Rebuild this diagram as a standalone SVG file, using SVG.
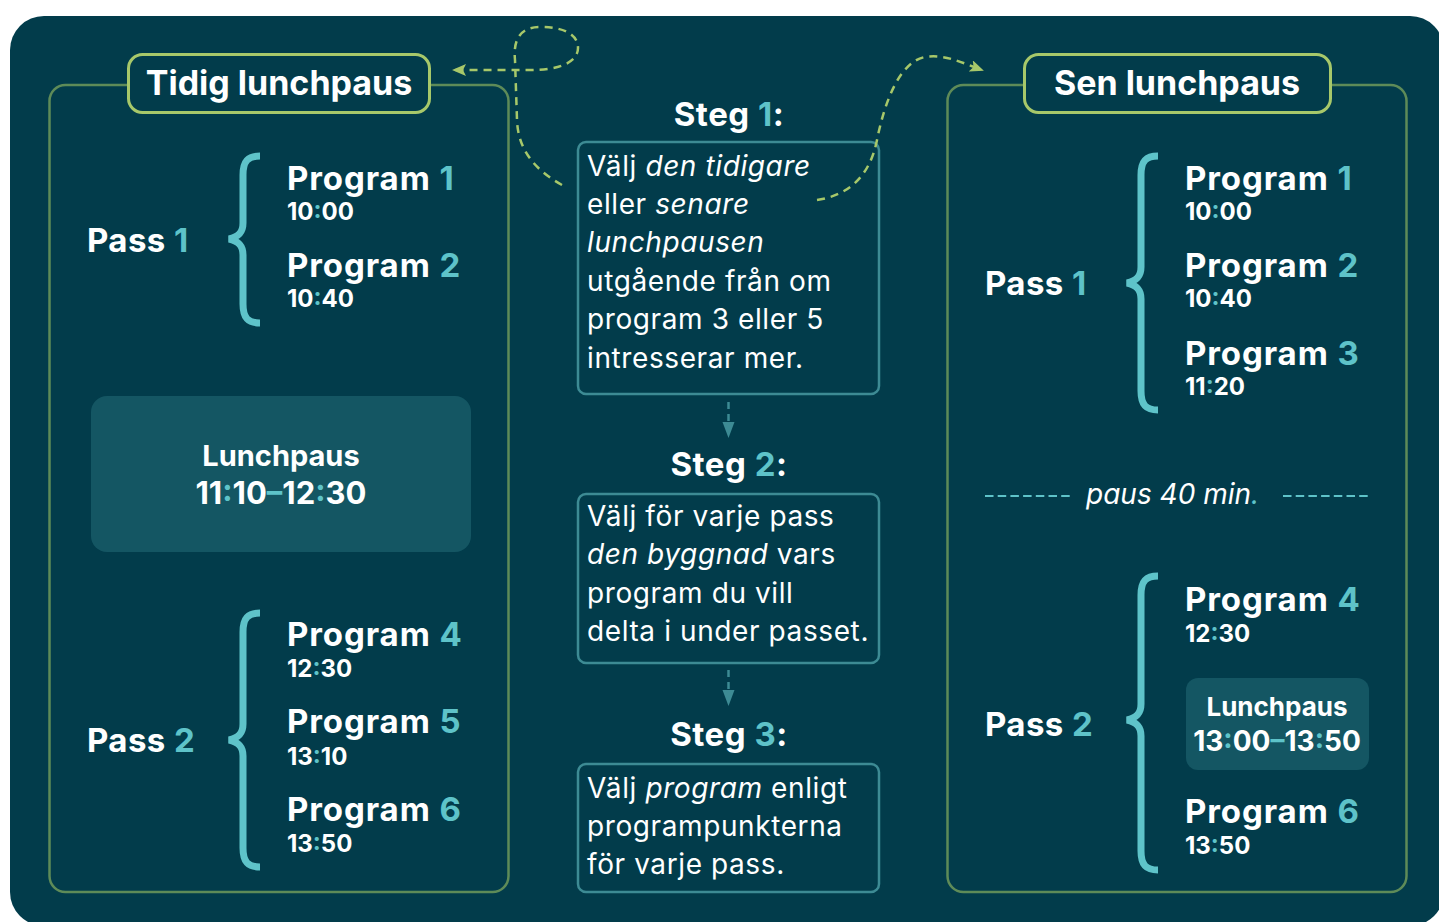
<svg xmlns="http://www.w3.org/2000/svg" width="1439" height="922" viewBox="0 0 1439 922">
<defs>
<style>
.t{font-family:Inter,"Noto Sans","Liberation Sans",sans-serif;fill:#ffffff}
.b{font-weight:700}
.a{fill:#5ec3c9}
.hd{font-size:34px}
.pg{font-size:33px;letter-spacing:0.9px}
.tm{font-size:24px}
.ps{font-size:33px;letter-spacing:0.4px}
.st{font-size:33px;letter-spacing:0.5px}
.bd{font-size:28px;font-weight:400;letter-spacing:0.6px}
.frame{fill:none;stroke:#5e8b58;stroke-width:2.5}
.hbox{fill:#023c4b;stroke:#a7c86a;stroke-width:3}
.sbox{fill:none;stroke:#3d8b94;stroke-width:2.5}
.lbox{fill:#145663}
.brace{fill:none;stroke:#5ec3c9;stroke-width:7}
.curve{fill:none;stroke:#a7c86a;stroke-width:2.5;stroke-dasharray:8 6}
.sarrow{fill:none;stroke:#3d8b94;stroke-width:2.5;stroke-dasharray:7 5}
.pline{fill:none;stroke:#5ec3c9;stroke-width:2;stroke-dasharray:8.5 4.2}
</style>
<marker id="ga" viewBox="0 0 14 12" refX="12" refY="6" markerWidth="14" markerHeight="12" markerUnits="userSpaceOnUse" orient="auto">
<path d="M0,0 L14,6 L0,12 L3,6 Z" fill="#a7c86a"/>
</marker>
</defs>
<rect x="10" y="16" width="1434" height="910" rx="34" fill="#023c4b"/>

<g id="panel-left">
<rect class="frame" x="49.5" y="85" width="459" height="807" rx="16"/>
<rect class="hbox" x="128.5" y="54.5" width="301" height="58" rx="14"/>
<text class="t b hd" x="279" y="95" text-anchor="middle">Tidig lunchpaus</text>
</g>
<g id="left-pass1">
<text class="t b ps" x="87" y="252">Pass <tspan class="a">1</tspan></text>
<path class="brace" d="M260,156 C248,156 243,161 243,175 L243,223 C243,233 238,237 229,239 C238,241 243,245 243,255 L243,304 C243,318 248,323 260,323"/>
<text class="t b pg" x="287" y="190">Program <tspan class="a">1</tspan></text>
<text class="t b tm" x="287" y="220">10<tspan class="a">:</tspan>00</text>
<text class="t b pg" x="287" y="277">Program <tspan class="a">2</tspan></text>
<text class="t b tm" x="287" y="307">10<tspan class="a">:</tspan>40</text>
</g>
<g id="left-lunch">
<rect class="lbox" x="91" y="396" width="380" height="156" rx="16"/>
<text class="t b" font-size="29" x="281" y="466" text-anchor="middle">Lunchpaus</text>
<text class="t b" font-size="31" x="281" y="504" text-anchor="middle">11<tspan class="a">:</tspan>10<tspan class="a">–</tspan>12<tspan class="a">:</tspan>30</text>
</g>
<g id="left-pass2">
<text class="t b ps" x="87" y="752">Pass <tspan class="a">2</tspan></text>
<path class="brace" d="M260,613 C248,613 243,618 243,632 L243,724 C243,734 238,738 229,740 C238,742 243,746 243,756 L243,848 C243,862 248,867 260,867"/>
<text class="t b pg" x="287" y="646">Program <tspan class="a">4</tspan></text>
<text class="t b tm" x="287" y="677">12<tspan class="a">:</tspan>30</text>
<text class="t b pg" x="287" y="733">Program <tspan class="a">5</tspan></text>
<text class="t b tm" x="287" y="765">13<tspan class="a">:</tspan>10</text>
<text class="t b pg" x="287" y="821">Program <tspan class="a">6</tspan></text>
<text class="t b tm" x="287" y="852">13<tspan class="a">:</tspan>50</text>
</g>

<g id="panel-right">
<rect class="frame" x="947.5" y="85" width="459" height="807" rx="16"/>
<rect class="hbox" x="1024.5" y="54.5" width="306" height="58" rx="14"/>
<text class="t b hd" x="1177" y="95" text-anchor="middle">Sen lunchpaus</text>
</g>
<g id="right-pass1">
<text class="t b ps" x="985" y="295">Pass <tspan class="a">1</tspan></text>
<path class="brace" d="M1158,156 C1146,156 1141,161 1141,175 L1141,267 C1141,277 1136,281 1127,283 C1136,285 1141,289 1141,299 L1141,391 C1141,405 1146,410 1158,410"/>
<text class="t b pg" x="1185" y="190">Program <tspan class="a">1</tspan></text>
<text class="t b tm" x="1185" y="220">10<tspan class="a">:</tspan>00</text>
<text class="t b pg" x="1185" y="277">Program <tspan class="a">2</tspan></text>
<text class="t b tm" x="1185" y="307">10<tspan class="a">:</tspan>40</text>
<text class="t b pg" x="1185" y="365">Program <tspan class="a">3</tspan></text>
<text class="t b tm" x="1185" y="395">11<tspan class="a">:</tspan>20</text>
</g>
<g id="right-pause">
<line class="pline" x1="985" y1="496" x2="1073" y2="496"/>
<text class="t" font-size="28" font-style="italic" x="1086" y="504">paus 40 min<tspan class="a">.</tspan></text>
<line class="pline" x1="1283" y1="496" x2="1371" y2="496"/>
</g>
<g id="right-pass2">
<text class="t b ps" x="985" y="736">Pass <tspan class="a">2</tspan></text>
<path class="brace" d="M1158,576 C1146,576 1141,581 1141,595 L1141,704 C1141,714 1136,718 1127,720 C1136,722 1141,726 1141,736 L1141,851 C1141,865 1146,870 1158,870"/>
<text class="t b pg" x="1185" y="611">Program <tspan class="a">4</tspan></text>
<text class="t b tm" x="1185" y="642">12<tspan class="a">:</tspan>30</text>
<rect class="lbox" x="1186" y="678" width="183" height="92" rx="12"/>
<text class="t b" font-size="26" x="1277" y="716" text-anchor="middle">Lunchpaus</text>
<text class="t b" font-size="28" x="1277" y="751" text-anchor="middle">13<tspan class="a">:</tspan>00<tspan class="a">–</tspan>13<tspan class="a">:</tspan>50</text>
<text class="t b pg" x="1185" y="823">Program <tspan class="a">6</tspan></text>
<text class="t b tm" x="1185" y="854">13<tspan class="a">:</tspan>50</text>
</g>

<g id="step1">
<text class="t b st" x="729" y="126" text-anchor="middle">Steg <tspan class="a">1</tspan>:</text>
<rect class="sbox" x="578" y="142" width="301" height="252" rx="8"/>
<text class="t bd" x="587" y="176">Välj <tspan font-style="italic">den tidigare</tspan></text>
<text class="t bd" x="587" y="214">eller <tspan font-style="italic">senare</tspan></text>
<text class="t bd" font-style="italic" x="587" y="252">lunchpausen</text>
<text class="t bd" x="587" y="291">utgående från om</text>
<text class="t bd" x="587" y="329">program 3 eller 5</text>
<text class="t bd" x="587" y="368">intresserar mer.</text>
</g>
<g id="step2">
<text class="t b st" x="729" y="476" text-anchor="middle">Steg <tspan class="a">2</tspan>:</text>
<rect class="sbox" x="578" y="494" width="301" height="169" rx="8"/>
<text class="t bd" x="587" y="526">Välj för varje pass</text>
<text class="t bd" x="587" y="564"><tspan font-style="italic">den byggnad</tspan> vars</text>
<text class="t bd" x="587" y="603">program du vill</text>
<text class="t bd" x="587" y="641">delta i under passet.</text>
</g>
<g id="step3">
<text class="t b st" x="729" y="746" text-anchor="middle">Steg <tspan class="a">3</tspan>:</text>
<rect class="sbox" x="578" y="764" width="301" height="128" rx="8"/>
<text class="t bd" x="587" y="798">Välj <tspan font-style="italic">program</tspan> enligt</text>
<text class="t bd" x="587" y="836">programpunkterna</text>
<text class="t bd" x="587" y="874">för varje pass.</text>
</g>

<g id="connectors">
<path class="curve" d="M562,185 C535,170 518,150 517,120 L515,60 C513,40 520,27 540,27 C565,27 578,35 578,48 C578,62 560,70 530,70 L454,70" marker-end="url(#ga)"/>
<path class="curve" d="M817,200 C850,195 870,175 877,140 C885,100 900,62 925,57 C945,54 960,62 982,70" marker-end="url(#ga)"/>
<line class="sarrow" x1="728.5" y1="402" x2="728.5" y2="424"/>
<path d="M722.5,422 L734.5,422 L728.5,438 Z" fill="#3d8b94"/>
<line class="sarrow" x1="728.5" y1="670" x2="728.5" y2="692"/>
<path d="M722.5,690 L734.5,690 L728.5,706 Z" fill="#3d8b94"/>
</g>
</svg>
